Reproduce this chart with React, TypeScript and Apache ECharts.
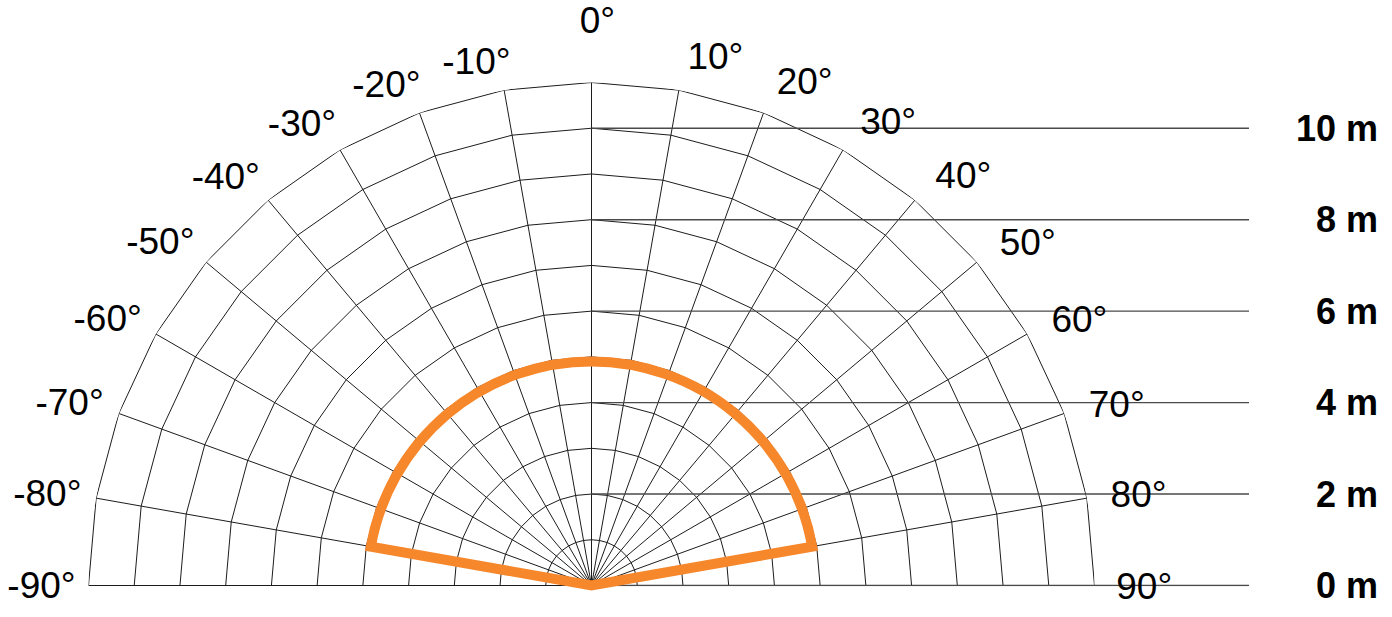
import React, { useEffect, useRef } from 'react';
import * as echarts from 'echarts';

// ---- data ----
const angleTicks = [-90, -80, -70, -60, -50, -40, -30, -20, -10, 0, 10, 20, 30, 40, 50, 60, 70, 80, 90];
const ringRadii = [1, 2, 3, 4, 5, 6, 7, 8, 9, 10, 11];
const distanceLevels = [0, 2, 4, 6, 8, 10];
const detectionRangeM = 4.9;
const detectionAngles = [-80, 80];

// ---- layout / style ----
const MAX_R = 11;
const CX = 591.5;
const CY = 585.5;
const RADIUS_PX = 503;
const PX_PER_M = RADIUS_PX / MAX_R;
const GRID_COLOR = '#1c1c1c';
const HLINE_COLOR = '#4a4a4a';
const ORANGE = '#F7872B';
const FONT = '"Liberation Sans", Arial, Helvetica, sans-serif';

export default function App() {
  const ref = useRef<HTMLDivElement>(null);

  useEffect(() => {
    if (!ref.current) return;
    const chart = echarts.init(ref.current, null, { renderer: 'svg' });

    const series: any[] = [];

    // polygonal rings
    ringRadii.forEach((r) => {
      series.push({
        type: 'line',
        coordinateSystem: 'polar',
        polarIndex: 0,
        data: angleTicks.map((a) => [r, a]),
        symbol: 'none',
        silent: true,
        lineStyle: { color: GRID_COLOR, width: 1 },
        z: 1,
      });
    });

    // radial spokes
    angleTicks.forEach((a) => {
      series.push({
        type: 'line',
        coordinateSystem: 'polar',
        polarIndex: 0,
        data: [[0, a], [MAX_R, a]],
        symbol: 'none',
        silent: true,
        lineStyle: { color: GRID_COLOR, width: 1 },
        z: 1,
      });
    });

    // horizontal distance lines
    distanceLevels.forEach((d) => {
      series.push({
        type: 'line',
        xAxisIndex: 0,
        yAxisIndex: 0,
        data: [[0, d], [1, d]],
        symbol: 'none',
        silent: true,
        lineStyle: { color: HLINE_COLOR, width: 1.4 },
        z: 2,
      });
    });

    // angle labels
    const labelData = angleTicks.map((a) => {
      if (a === 0) {
        return {
          value: [(CY - 34) / PX_PER_M, 0],
          label: { align: 'center', offset: [6, -13] },
          name: `${a}°`,
        };
      }
      if (a > 0) {
        const shift = 0.4 + a * 0.013;
        return {
          value: [525 / PX_PER_M, a + shift],
          label: { align: 'left', offset: [0, -13] },
          name: `${a}°`,
        };
      }
      const shift = -1.3 + Math.abs(a) * 0.032;
      return {
        value: [516 / PX_PER_M, a - shift],
        label: { align: 'right', offset: [0, -14] },
        name: `${a}°`,
      };
    });
    series.push({
      type: 'scatter',
      coordinateSystem: 'polar',
      polarIndex: 0,
      symbol: 'circle',
      symbolSize: 0.1,
      itemStyle: { color: 'rgba(0,0,0,0)', opacity: 1 },
      silent: true,
      clip: false,
      data: labelData,
      label: {
        show: true,
        position: [0, 0],
        verticalAlign: 'middle',
        formatter: (p: any) => p.name,
        fontSize: 37,
        lineHeight: 30,
        fontFamily: FONT,
        color: '#000',
        opacity: 1,
      },
      z: 5,
    });

    // detection zone sector
    series.push({
      type: 'custom',
      coordinateSystem: 'polar',
      polarIndex: 0,
      data: [[detectionRangeM, detectionAngles[0], detectionAngles[1]]],
      encode: { radius: 0, angle: 1 },
      clip: false,
      silent: true,
      renderItem: (_params: any, api: any) => {
        const R = api.value(0);
        const a0 = api.value(1);
        const a1 = api.value(2);
        const c = api.coord([0, a0]);
        const p0 = api.coord([R, a0]);
        const p1 = api.coord([R, a1]);
        const r = Math.hypot(p0[0] - c[0], p0[1] - c[1]);
        return {
          type: 'sector',
          shape: {
            cx: c[0],
            cy: c[1],
            r0: 0,
            r,
            startAngle: Math.atan2(p0[1] - c[1], p0[0] - c[0]),
            endAngle: Math.atan2(p1[1] - c[1], p1[0] - c[0]),
            clockwise: true,
          },
          style: { fill: 'none', stroke: ORANGE, lineWidth: 10, lineJoin: 'miter' },
        };
      },
      z: 10,
    });

    chart.setOption({
      animation: false,
      backgroundColor: '#ffffff',
      polar: { center: [CX, CY], radius: RADIUS_PX },
      angleAxis: {
        type: 'value',
        min: -90,
        max: 270,
        startAngle: 180,
        clockwise: true,
        axisLine: { show: false },
        axisTick: { show: false },
        axisLabel: { show: false },
        splitLine: { show: false },
      },
      radiusAxis: {
        type: 'value',
        min: 0,
        max: MAX_R,
        axisLine: { show: false },
        axisTick: { show: false },
        axisLabel: { show: false },
        splitLine: { show: false },
      },
      grid: {
        left: CX,
        top: CY - RADIUS_PX,
        width: 1249 - CX,
        height: RADIUS_PX,
        outerBoundsMode: 'none',
        containLabel: false,
      },
      xAxis: {
        type: 'value',
        min: 0,
        max: 1,
        show: false,
      },
      yAxis: {
        type: 'value',
        min: 0,
        max: MAX_R,
        interval: 2,
        position: 'right',
        axisLine: { show: false },
        axisTick: { show: false },
        splitLine: { show: false },
        axisLabel: {
          formatter: (v: number) => (distanceLevels.indexOf(v) >= 0 ? `${v} m` : ''),
          align: 'right',
          margin: 1378 - 1249,
          fontSize: 36,
          fontWeight: 'bold',
          fontFamily: FONT,
          color: '#000',
        },
      },
      series,
    });

    return () => chart.dispose();
  }, []);

  return (
    <div
      ref={ref}
      style={{ position: 'absolute', left: 0, top: 0, width: 1392, height: 617, background: '#fff' }}
    />
  );
}
